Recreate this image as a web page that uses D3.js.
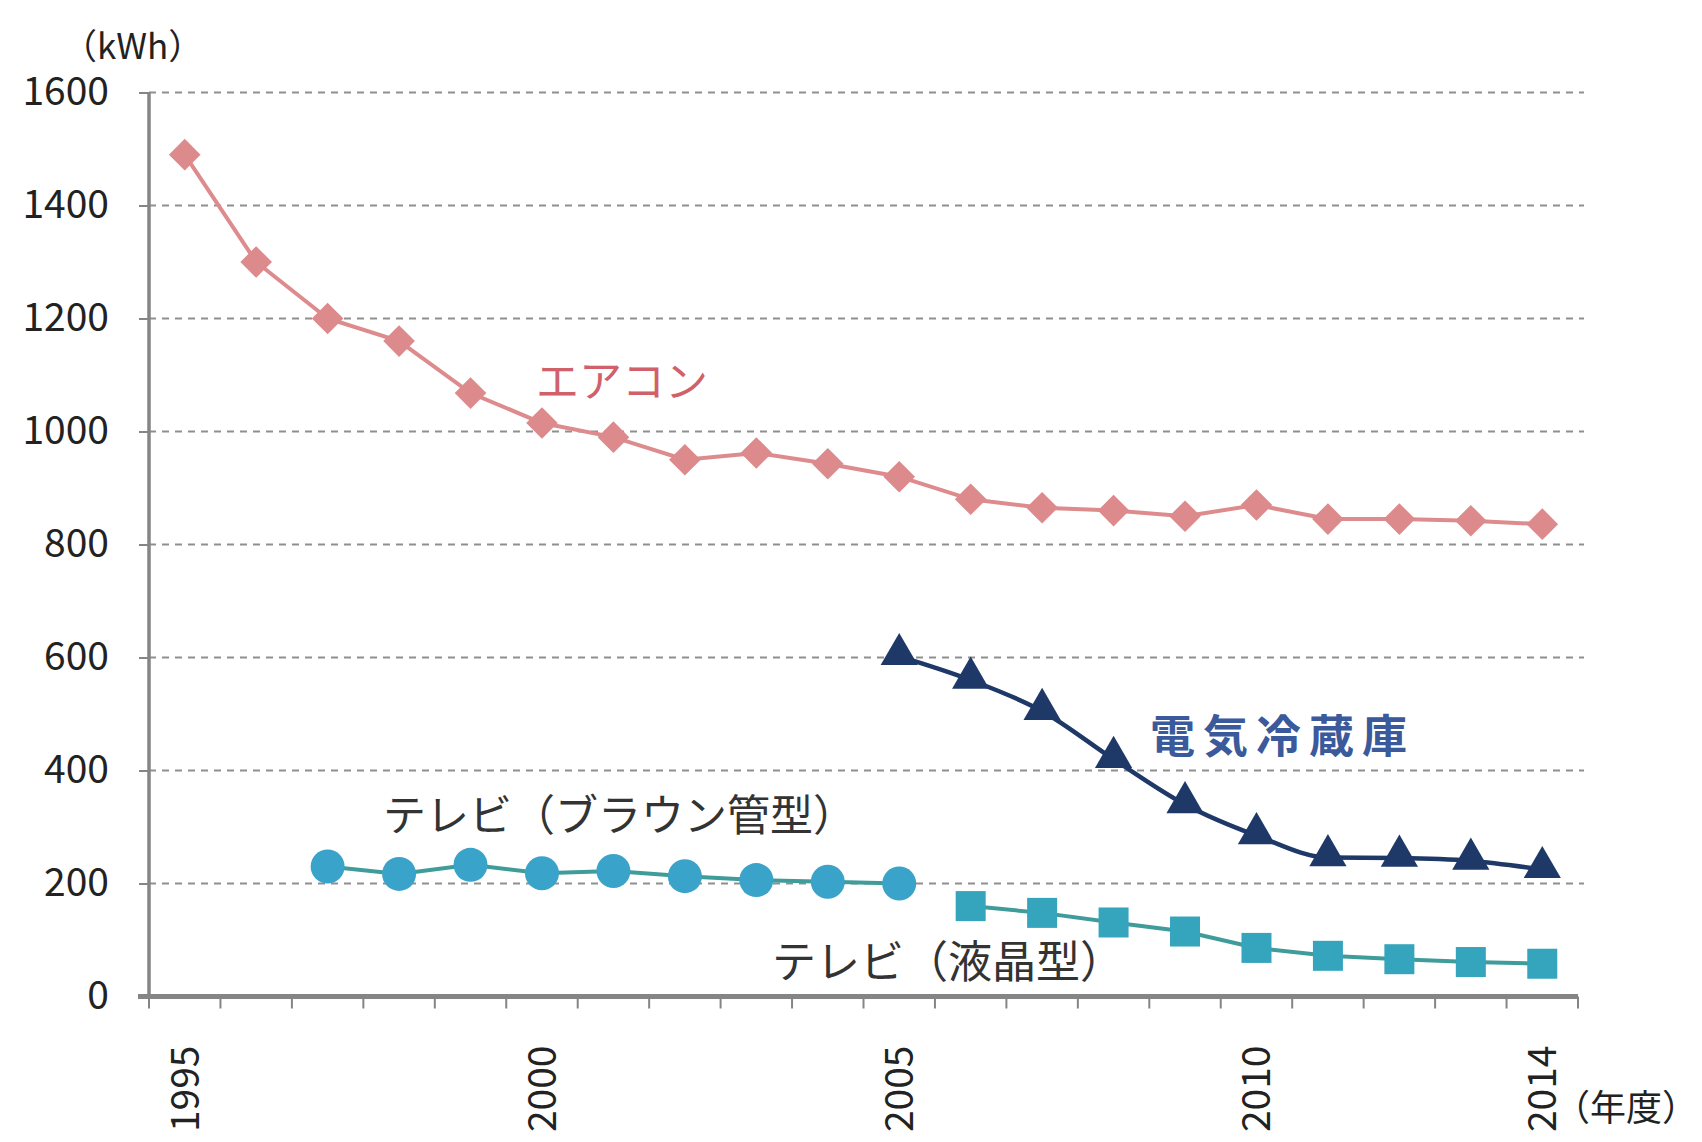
<!DOCTYPE html>
<html>
<head>
<meta charset="utf-8">
<script src="https://cdn.jsdelivr.net/npm/d3@7"></script>
<style>
  html, body { margin: 0; padding: 0; background: #fff; }
  svg { display: block; font-family: "Noto Sans CJK JP", "Noto Sans", sans-serif; }
</style>
</head>
<body>
<svg id="chart" width="1702" height="1142"></svg>
<script>
// Fiscal years on the category axis
const years = d3.range(1995, 2015);
const xTickLabels = [1995, 2000, 2005, 2010, 2014];
const yTicks = [0, 200, 400, 600, 800, 1000, 1200, 1400, 1600];

// Annual electricity consumption per appliance (kWh)
const aircon = [1490, 1300, 1200, 1160, 1068, 1015, 990, 950, 962, 943, 920, 880, 865, 860, 850, 870, 845, 845, 842, 836];
const fridgeYears = d3.range(2005, 2015);
const fridge = [602, 560, 505, 420, 340, 285, 246, 245, 240, 225];
const crtYears = d3.range(1997, 2006);
const crtTv = [230, 217, 233, 218, 222, 213, 206, 203, 200];
const lcdYears = d3.range(2006, 2015);
const lcdTv = [160, 148, 131, 115, 86, 72, 66, 61, 58];

const svg = d3.select("#chart");

const x = d3.scaleBand().domain(years).range([149, 1578]).padding(0);
const cx = d => x(d) + x.bandwidth() / 2;
const y = d3.scaleLinear().domain([0, 1600]).range([996.5, 92.5]);

// Horizontal dashed gridlines
svg.append("g")
  .selectAll("line")
  .data(yTicks.filter(v => v > 0))
  .join("line")
  .attr("x1", 149).attr("x2", 1584)
  .attr("y1", d => y(d)).attr("y2", d => y(d))
  .attr("stroke", "#8f8f8f")
  .attr("stroke-width", 2.2)
  .attr("stroke-dasharray", "7,6");

// Y axis
const yAxis = d3.axisLeft(y).tickValues(yTicks).tickSize(10).tickPadding(30).tickFormat(d3.format("d"));
const gy = svg.append("g").attr("transform", "translate(149,0)").call(yAxis);
gy.select(".domain").attr("stroke", "#858585").attr("stroke-width", 3.5).attr("d", `M0,${y(1600)}V${y(0)}`);
gy.selectAll(".tick line").attr("stroke", "#858585").attr("stroke-width", 2);
gy.selectAll(".tick text").attr("font-size", 39).attr("fill", "#222")
  .attr("font-family", "'Noto Sans CJK JP', sans-serif");

// X axis: ticks on category boundaries
const gx = svg.append("g").attr("transform", `translate(0,${y(0)})`);
gx.append("line").attr("x1", 138).attr("x2", 1578).attr("y1", 0).attr("y2", 0)
  .attr("stroke", "#858585").attr("stroke-width", 5);
gx.selectAll(".xt")
  .data(years.concat([2015]))
  .join("line")
  .attr("class", "xt")
  .attr("x1", d => d === 2015 ? 1578 : x(d))
  .attr("x2", d => d === 2015 ? 1578 : x(d))
  .attr("y1", 0).attr("y2", 12)
  .attr("stroke", "#858585").attr("stroke-width", 2);
gx.selectAll(".xl")
  .data(xTickLabels)
  .join("text")
  .attr("class", "xl")
  .attr("transform", d => `translate(${cx(d) + 14},49) rotate(-90)`)
  .attr("text-anchor", "end")
  .attr("font-size", 39)
  .attr("fill", "#222")
  .text(d => d);

// Unit labels
svg.append("text").attr("x", 62).attr("y", 59).attr("font-size", 35).attr("fill", "#222").text("（kWh）");
svg.append("text").attr("x", 1554).attr("y", 1121).attr("font-size", 36).attr("fill", "#222").text("（年度）");

const line = d3.line().x(d => cx(d[0])).y(d => y(d[1]));

// Air conditioner: pink line with diamonds
const acData = years.map((yr, i) => [yr, aircon[i]]);
svg.append("path").datum(acData).attr("d", line)
  .attr("fill", "none").attr("stroke", "#dd8b8d").attr("stroke-width", 4);
svg.append("g").selectAll("path").data(acData).join("path")
  .attr("d", d3.symbol(d3.symbolSquare, 500)())
  .attr("transform", d => `translate(${cx(d[0])},${y(d[1])}) rotate(45)`)
  .attr("fill", "#dd8a8c");

// Refrigerator: navy line with triangles
const frData = fridgeYears.map((yr, i) => [yr, fridge[i]]);
svg.append("path").datum(frData).attr("d", d3.line().x(d => cx(d[0])).y(d => y(d[1])).curve(d3.curveMonotoneX))
  .attr("fill", "none").attr("stroke", "#1e3868").attr("stroke-width", 4.5);
svg.append("g").selectAll("path").data(frData).join("path")
  .attr("d", d3.symbol(d3.symbolTriangle, 600)())
  .attr("transform", d => `translate(${cx(d[0])},${y(d[1]) - 2})`)
  .attr("fill", "#1e3868");

// CRT television: teal line with circles
const crtData = crtYears.map((yr, i) => [yr, crtTv[i]]);
svg.append("path").datum(crtData).attr("d", line)
  .attr("fill", "none").attr("stroke", "#3f9c9a").attr("stroke-width", 4);
svg.append("g").selectAll("circle").data(crtData).join("circle")
  .attr("cx", d => cx(d[0])).attr("cy", d => y(d[1])).attr("r", 17)
  .attr("fill", "#3aa3c9");

// LCD television: teal line with squares
const lcdData = lcdYears.map((yr, i) => [yr, lcdTv[i]]);
svg.append("path").datum(lcdData).attr("d", line)
  .attr("fill", "none").attr("stroke", "#3f9c9a").attr("stroke-width", 4);
svg.append("g").selectAll("rect").data(lcdData).join("rect")
  .attr("x", d => cx(d[0]) - 15).attr("y", d => y(d[1]) - 15)
  .attr("width", 30).attr("height", 30)
  .attr("fill", "#35a4bd");

// Series labels
svg.append("text").attr("x", 536).attr("y", 397).attr("font-size", 43).attr("fill", "#d0606a").text("エアコン");
svg.append("text").attr("x", 1150).attr("y", 753).attr("font-size", 45).attr("font-weight", "bold")
  .attr("fill", "#3a5a9c").attr("letter-spacing", 8).text("電気冷蔵庫");
svg.append("text").attr("x", 383).attr("y", 831).attr("font-size", 43).attr("fill", "#333").text("テレビ（ブラウン管型）");
svg.append("text").attr("x", 772).attr("y", 978).attr("font-size", 44).attr("fill", "#333").text("テレビ（液晶型）");
</script>
</body>
</html>
